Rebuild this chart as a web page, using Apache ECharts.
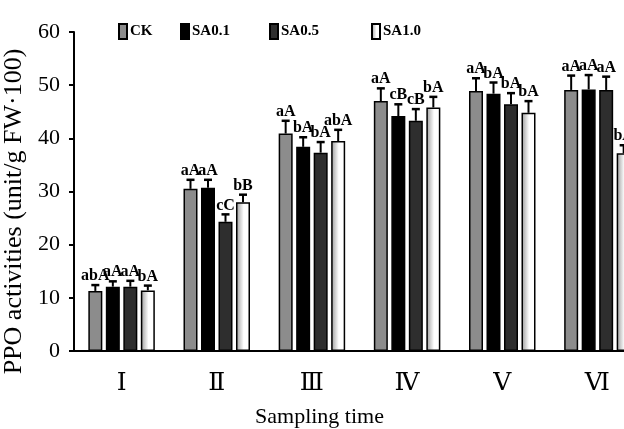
<!DOCTYPE html>
<html>
<head>
<meta charset="utf-8">
<script src="https://cdn.jsdelivr.net/npm/echarts@6/dist/echarts.min.js"></script>
<style>html,body{margin:0;padding:0;background:#fff;}#chart{width:624px;height:429px;}</style>
</head>
<body>
<div id="chart"></div>
<script>
const categories = ['Ⅰ', 'Ⅱ', 'Ⅲ', 'Ⅳ', 'Ⅴ', 'Ⅵ'];
const seriesNames = ['CK', 'SA0.1', 'SA0.5', 'SA1.0'];
const ckValues   = [11.3, 30.5, 40.9, 47.0, 48.9, 49.1];
const sa01Values = [12.1, 30.7, 38.4, 44.2, 48.4, 49.2];
const sa05Values = [12.1, 24.3, 37.3, 43.3, 46.4, 49.1];
const sa10Values = [11.4, 28.0, 39.5, 45.8, 44.8, 37.2];
const ckErrors   = [1.1, 1.7, 2.4, 2.4, 2.4, 2.7];
const sa01Errors = [1.0, 1.5, 1.8, 2.2, 2.1, 2.7];
const sa05Errors = [1.1, 1.4, 2.0, 2.2, 2.1, 2.5];
const sa10Errors = [0.9, 1.4, 2.1, 2.0, 2.2, 1.5];
const ckLabels   = ['abA', 'aA', 'aA', 'aA', 'aA', 'aA'];
const sa01Labels = ['aA', 'aA', 'bA', 'cB', 'bA', 'aA'];
const sa05Labels = ['aA', 'cC', 'bA', 'cB', 'bA', 'aA'];
const sa10Labels = ['bA', 'bB', 'abA', 'bA', 'bA', 'bA'];
const yTicks = [0, 10, 20, 30, 40, 50, 60];

const valuesAll = [ckValues, sa01Values, sa05Values, sa10Values];
const errorsAll = [ckErrors, sa01Errors, sa05Errors, sa10Errors];
const labelsAll = [ckLabels, sa01Labels, sa05Labels, sa10Labels];

const SERIF = "'Liberation Serif','DejaVu Serif',serif";
const BAR_W = 14, STEP = 17.5;
const fills = [
  '#8c8c8c',
  '#000000',
  '#2e2e2e',
  {type: 'linear', x: 0, y: 0, x2: 1, y2: 0, colorStops: [
    {offset: 0, color: '#9a9a9a'}, {offset: 0.55, color: '#ffffff'}, {offset: 1, color: '#ffffff'}]}
];

const series = [];
seriesNames.forEach((name, s) => {
  series.push({
    name: name, type: 'bar', barWidth: BAR_W, barGap: '25%',
    itemStyle: {color: fills[s], borderColor: '#000', borderWidth: 1.5},
    data: valuesAll[s], z: 2
  });
});
seriesNames.forEach((name, s) => {
  series.push({
    type: 'custom', z: 3, silent: true, clip: false,
    data: valuesAll[s].map((v, i) => [i, v, errorsAll[s][i]]),
    renderItem: function (params, api) {
      const i = api.value(0);
      const top = api.coord([i, api.value(1)]);
      const cap = api.coord([i, api.value(1) + api.value(2)]);
      const x = top[0] + (s - 1.5) * STEP;
      return {
        type: 'group',
        children: [
          {type: 'line', shape: {x1: x, y1: top[1], x2: x, y2: cap[1]}, style: {stroke: '#000', lineWidth: 2}},
          {type: 'line', shape: {x1: x - 4, y1: cap[1], x2: x + 4, y2: cap[1]}, style: {stroke: '#000', lineWidth: 2.5}},
          {type: 'text', x: x, y: cap[1] - 1,
           style: {text: labelsAll[s][params.dataIndex], x: 0, y: 0, align: 'center', verticalAlign: 'bottom',
                   font: 'bold 16px ' + SERIF, fill: '#000'}}
        ]
      };
    }
  });
});

const legendPos = [113, 175, 264, 366];
const legends = seriesNames.map((n, s) => ({
  data: [n], left: legendPos[s], top: 18, itemWidth: 8, itemHeight: 15, itemGap: 0,
  icon: 'rect', selectedMode: false,
  textStyle: {fontFamily: SERIF, fontWeight: 'bold', fontSize: 15, color: '#000', padding: [0, 0, 0, -2]}
}));

const chart = echarts.init(document.getElementById('chart'), null, {renderer: 'canvas'});
chart.setOption({
  animation: false,
  backgroundColor: '#fff',
  legend: legends,
  grid: {left: 74, top: 32, width: 571, bottom: 78, containLabel: false, outerBoundsMode: 'none'},
  xAxis: {
    type: 'category', data: categories,
    axisLine: {lineStyle: {color: '#000', width: 2}},
    axisTick: {show: false},
    axisLabel: {fontFamily: SERIF, fontSize: 25, color: '#000', margin: 20},
    name: 'Sampling time', nameLocation: 'middle', nameGap: 55,
    nameTextStyle: {fontFamily: SERIF, fontSize: 22, color: '#000', padding: [0, 80, 0, 0]}
  },
  yAxis: {
    type: 'value', min: yTicks[0], max: yTicks[yTicks.length - 1], interval: 10,
    axisLine: {show: true, lineStyle: {color: '#000', width: 2}},
    axisTick: {show: true, inside: false, length: 5, lineStyle: {color: '#000', width: 2}},
    splitLine: {show: false},
    axisLabel: {fontFamily: SERIF, fontSize: 22, color: '#000', margin: 14},
    name: 'PPO activities (unit/g FW·100)', nameLocation: 'middle', nameGap: 45,
    nameTextStyle: {fontFamily: SERIF, fontSize: 26, color: '#000', padding: [0, 40, 0, 0]}
  },
  series: series
});
</script>
</body>
</html>
